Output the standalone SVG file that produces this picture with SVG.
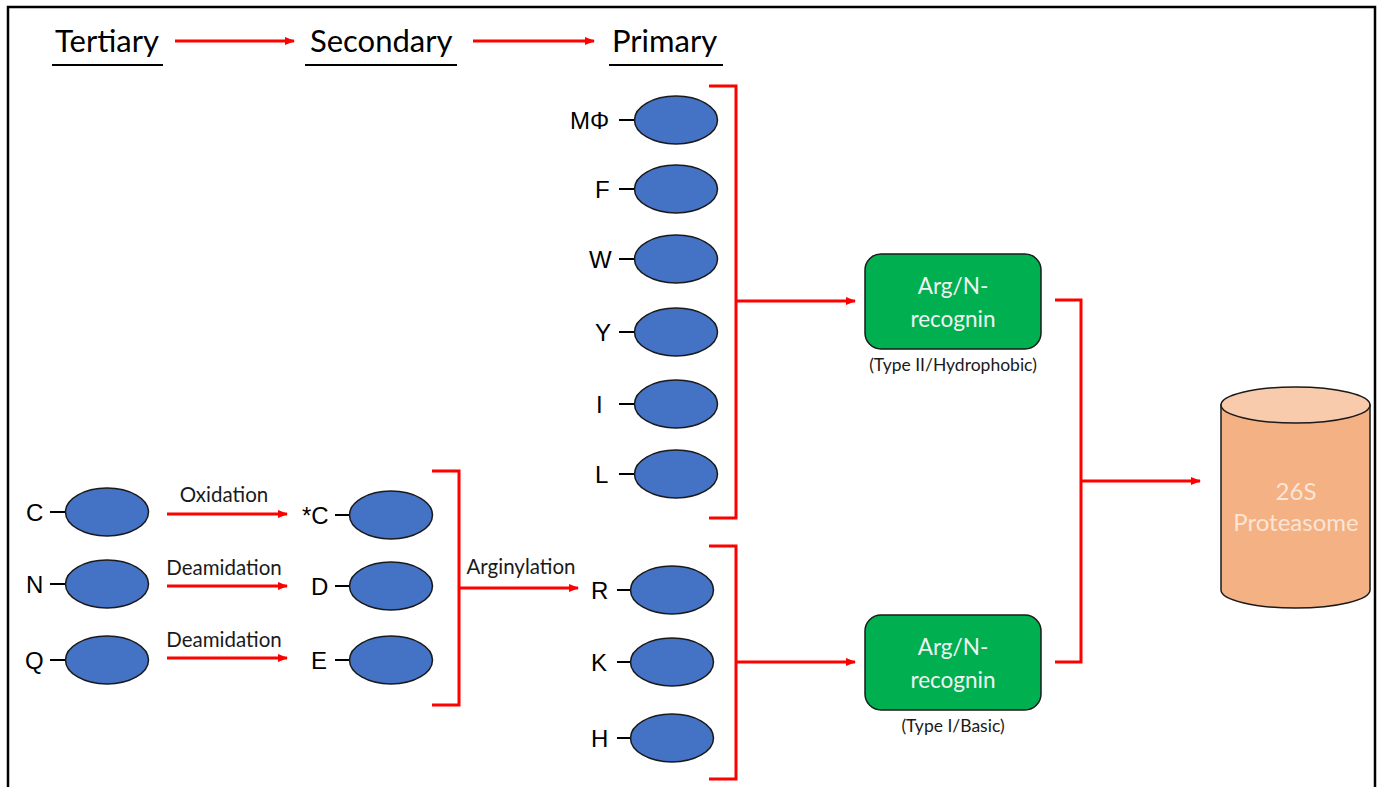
<svg xmlns="http://www.w3.org/2000/svg" width="1384" height="787" viewBox="0 0 1384 787">
  <style>
    .hdr { font-family: Lato, "Open Sans", sans-serif; font-size: 31px; fill: #000; }
    .ul { stroke: #000; stroke-width: 2; }
    .res { fill: #4472C4; stroke: #1a1a1a; stroke-width: 1.5; }
    .aa { font-family: "Liberation Sans", Arial, sans-serif; font-size: 24px; fill: #000; }
    .tick { stroke: #000; stroke-width: 2; }
    .lbl { font-family: Lato, "Open Sans", sans-serif; font-size: 20.5px; fill: #1a1a1a; }
    .red { stroke: #FF0000; stroke-width: 3; fill: none; }
    .box { fill: #00B050; stroke: #1a1a1a; stroke-width: 1.5; }
    .boxt { font-family: Lato, "Open Sans", sans-serif; font-size: 22.5px; fill: #F2F2F2; text-anchor: middle; }
    .sub { font-family: Lato, "Open Sans", sans-serif; font-size: 17.5px; fill: #1a1a1a; text-anchor: middle; }
    .cylt { font-family: Lato, "Open Sans", sans-serif; font-size: 24px; fill: #FBE5D6; text-anchor: middle; }
  </style>
  <defs>
    <marker id="arr" markerWidth="10" markerHeight="8" refX="9" refY="4" orient="auto" markerUnits="userSpaceOnUse">
      <path d="M0,0 L10,4 L0,8 Z" fill="#FF0000"/>
    </marker>
  </defs>

  <rect x="0" y="0" width="1384" height="787" fill="#fff"/>
  <!-- frame -->
  <rect x="8" y="7" width="1367" height="800" fill="none" stroke="#000" stroke-width="2.5"/>

  <!-- level headers -->
  <g id="hdr-tertiary">
    <text class="hdr" x="55" y="52">Tertiary</text>
    <line class="ul" x1="52" y1="65" x2="163" y2="65"/>
  </g>
  <g id="hdr-secondary">
    <text class="hdr" x="310" y="52">Secondary</text>
    <line class="ul" x1="305" y1="65" x2="457" y2="65"/>
  </g>
  <g id="hdr-primary">
    <text class="hdr" x="612" y="52">Primary</text>
    <line class="ul" x1="609" y1="65" x2="723" y2="65"/>
  </g>

  <!-- tertiary residues -->
  <g id="t-C"><text class="aa" x="26" y="521">C</text><line class="tick" x1="50" y1="512" x2="65" y2="512"/><ellipse class="res" cx="107" cy="512" rx="41.5" ry="24"/></g>
  <g id="t-N"><text class="aa" x="26" y="593">N</text><line class="tick" x1="50" y1="584" x2="65" y2="584"/><ellipse class="res" cx="107" cy="584" rx="41.5" ry="24"/></g>
  <g id="t-Q"><text class="aa" x="25" y="669">Q</text><line class="tick" x1="50" y1="660" x2="65" y2="660"/><ellipse class="res" cx="107" cy="660" rx="41.5" ry="24"/></g>

  <!-- secondary residues -->
  <g id="s-C"><text class="aa" x="302" y="524">*C</text><line class="tick" x1="335" y1="515" x2="350" y2="515"/><ellipse class="res" cx="391" cy="515" rx="41.5" ry="24"/></g>
  <g id="s-D"><text class="aa" x="311" y="595">D</text><line class="tick" x1="335" y1="586" x2="350" y2="586"/><ellipse class="res" cx="391" cy="586" rx="41.5" ry="24"/></g>
  <g id="s-E"><text class="aa" x="311" y="669">E</text><line class="tick" x1="335" y1="660" x2="350" y2="660"/><ellipse class="res" cx="391" cy="660" rx="41.5" ry="24"/></g>

  <!-- primary residues: hydrophobic -->
  <g id="p-MPhi"><text class="aa" x="570" y="129">MΦ</text><line class="tick" x1="619" y1="120" x2="634" y2="120"/><ellipse class="res" cx="676" cy="120" rx="41.5" ry="24"/></g>
  <g id="p-F"><text class="aa" x="595" y="198">F</text><line class="tick" x1="619" y1="189" x2="634" y2="189"/><ellipse class="res" cx="676" cy="189" rx="41.5" ry="24"/></g>
  <g id="p-W"><text class="aa" x="589" y="268">W</text><line class="tick" x1="619" y1="259" x2="634" y2="259"/><ellipse class="res" cx="676" cy="259" rx="41.5" ry="24"/></g>
  <g id="p-Y"><text class="aa" x="595" y="341">Y</text><line class="tick" x1="619" y1="332" x2="634" y2="332"/><ellipse class="res" cx="676" cy="332" rx="41.5" ry="24"/></g>
  <g id="p-I"><text class="aa" x="596" y="413">I</text><line class="tick" x1="619" y1="404" x2="634" y2="404"/><ellipse class="res" cx="676" cy="404" rx="41.5" ry="24"/></g>
  <g id="p-L"><text class="aa" x="595" y="483">L</text><line class="tick" x1="619" y1="474" x2="634" y2="474"/><ellipse class="res" cx="676" cy="474" rx="41.5" ry="24"/></g>

  <!-- primary residues: basic -->
  <g id="p-R"><text class="aa" x="591" y="599">R</text><line class="tick" x1="617" y1="590" x2="632" y2="590"/><ellipse class="res" cx="672" cy="590" rx="41.5" ry="24"/></g>
  <g id="p-K"><text class="aa" x="591" y="671">K</text><line class="tick" x1="617" y1="662" x2="632" y2="662"/><ellipse class="res" cx="672" cy="662" rx="41.5" ry="24"/></g>
  <g id="p-H"><text class="aa" x="591" y="747">H</text><line class="tick" x1="617" y1="738" x2="632" y2="738"/><ellipse class="res" cx="672" cy="738" rx="41.5" ry="24"/></g>

  <!-- recognins -->
  <g id="recognin-II">
    <rect class="box" x="865" y="254" width="176" height="95" rx="16"/>
    <text class="boxt" x="953" y="294">Arg/N-</text>
    <text class="boxt" x="953" y="327">recognin</text>
    <text class="sub" x="953" y="371">(Type II/Hydrophobic)</text>
  </g>
  <g id="recognin-I">
    <rect class="box" x="865" y="615" width="176" height="95" rx="16"/>
    <text class="boxt" x="953" y="655">Arg/N-</text>
    <text class="boxt" x="953" y="688">recognin</text>
    <text class="sub" x="953" y="732">(Type I/Basic)</text>
  </g>

  <!-- proteasome -->
  <g id="proteasome">
    <path d="M1221,405 L1221,590 A74.5,18 0 0 0 1370,590 L1370,405 Z" fill="#F4B183" stroke="#1a1a1a" stroke-width="1.5"/>
    <ellipse cx="1295.5" cy="405" rx="74.5" ry="18" fill="#F8CBAD" stroke="#1a1a1a" stroke-width="1.5"/>
    <text class="cylt" x="1296" y="500">26S</text>
    <text class="cylt" x="1296" y="531">Proteasome</text>
  </g>

  <!-- connectors -->
  <g id="connectors">
    <line class="red" x1="175" y1="41" x2="294" y2="41" marker-end="url(#arr)"/>
    <line class="red" x1="473" y1="41" x2="594" y2="41" marker-end="url(#arr)"/>

    <line class="red" x1="167" y1="514" x2="287" y2="514" marker-end="url(#arr)"/>
    <text class="lbl" x="224" y="502" text-anchor="middle">Oxidation</text>
    <line class="red" x1="167" y1="586" x2="287" y2="586" marker-end="url(#arr)"/>
    <text class="lbl" x="224" y="575" text-anchor="middle">Deamidation</text>
    <line class="red" x1="167" y1="658" x2="287" y2="658" marker-end="url(#arr)"/>
    <text class="lbl" x="224" y="647" text-anchor="middle">Deamidation</text>

    <polyline class="red" points="432,471 459,471 459,705 432,705"/>
    <line class="red" x1="459" y1="588" x2="578" y2="588" marker-end="url(#arr)"/>
    <text class="lbl" x="521" y="574" text-anchor="middle">Arginylation</text>

    <polyline class="red" points="709,86 736,86 736,518 709,518"/>
    <line class="red" x1="736" y1="301" x2="855" y2="301" marker-end="url(#arr)"/>
    <polyline class="red" points="709,546 736,546 736,779 709,779"/>
    <line class="red" x1="736" y1="662" x2="855" y2="662" marker-end="url(#arr)"/>

    <polyline class="red" points="1055,300 1081,300 1081,662 1055,662"/>
    <line class="red" x1="1081" y1="481" x2="1200" y2="481" marker-end="url(#arr)"/>
  </g>
</svg>
